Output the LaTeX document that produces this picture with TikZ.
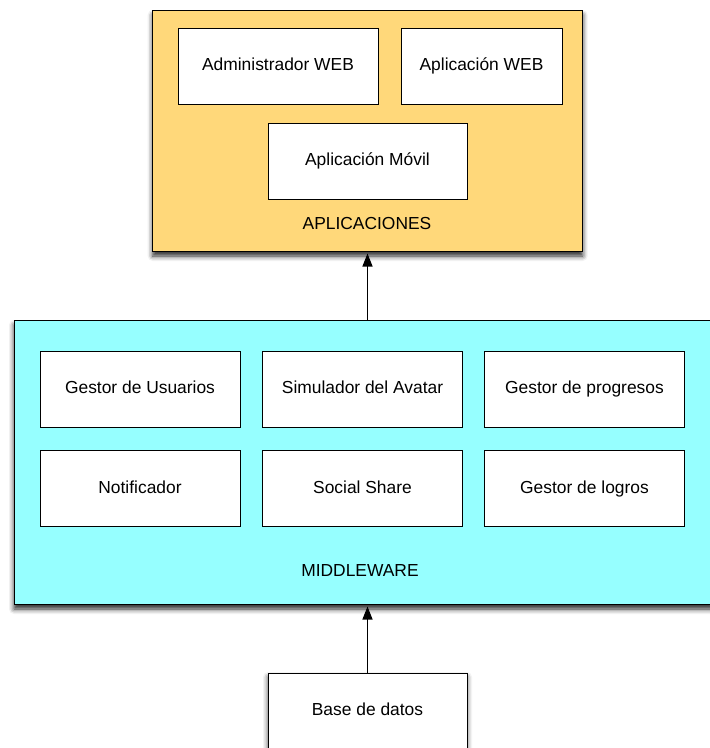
\documentclass[tikz,border=0pt]{standalone}
\usepackage{fontspec}
\setmainfont{Liberation Sans}
\usetikzlibrary{shadows.blur,arrows.meta}
\definecolor{appfill}{RGB}{255,216,122}
\definecolor{mwfill}{RGB}{150,255,255}
\tikzset{
  layer/.style={draw=black, line width=1pt, rectangle, inner sep=0pt,
    blur shadow={shadow xshift=0pt, shadow yshift=-5pt, shadow blur radius=5pt,
      shadow opacity=85}},
  module/.style={draw=black, line width=1pt, fill=white, rectangle, inner sep=0pt,
    minimum height=76pt, text height=12.5pt, text depth=3.5pt,
    font=\fontsize{17.4}{20}\selectfont},
  caption/.style={font=\fontsize{17.4}{20}\selectfont, text height=12.5pt, text depth=3.5pt},
  link/.style={draw=black, line width=1.2pt, -{Triangle[length=13pt,width=10pt]}}
}
\begin{document}
\begin{tikzpicture}[x=1pt,y=-1pt]
  \useasboundingbox (0,0) rectangle (710,748);
  \clip (0,0) rectangle (710,748);
  % application layer
  \node[layer, fill=appfill, minimum width=430pt, minimum height=241pt] (app) at (367.7,130.5) {};
  \node[module, minimum width=200pt] (admin) at (278,66) {Administrador WEB};
  \node[module, minimum width=161pt] (appweb) at (481.5,66) {Aplicación WEB};
  \node[module, minimum width=199pt] (movil) at (367.5,161) {Aplicación Móvil};
  \node[caption] (applabel) at (367,225) {APLICACIONES};
  % middleware layer
  \node[layer, fill=mwfill, minimum width=699pt, minimum height=284pt] (mw) at (363.5,462) {};
  \node[module, minimum width=200pt] (usuarios) at (140,389) {Gestor de Usuarios};
  \node[module, minimum width=200pt] (avatar) at (362.5,389) {Simulador del Avatar};
  \node[module, minimum width=200pt] (progresos) at (584.5,389) {Gestor de progresos};
  \node[module, minimum width=200pt] (notif) at (140,488.5) {Notificador};
  \node[module, minimum width=200pt] (social) at (362.5,488.5) {Social Share};
  \node[module, minimum width=200pt] (logros) at (584.5,488.5) {Gestor de logros};
  \node[caption] (mwlabel) at (360,572) {MIDDLEWARE};
  % data layer
  \node[module, minimum width=199pt,
    blur shadow={shadow xshift=0pt, shadow yshift=-4pt, shadow blur radius=5pt, shadow opacity=75}]
    (db) at (367.5,711) {Base de datos};
  % connections
  \coordinate (mwtop) at (db.north |- mw.north);
  \coordinate (appbot) at (db.north |- app.south);
  \draw[link] (db.north) -- ([yshift=-2pt]db.north |- mw.south);
  \draw[link] (mwtop) -- ([yshift=-2pt]appbot);
\end{tikzpicture}
\end{document}
